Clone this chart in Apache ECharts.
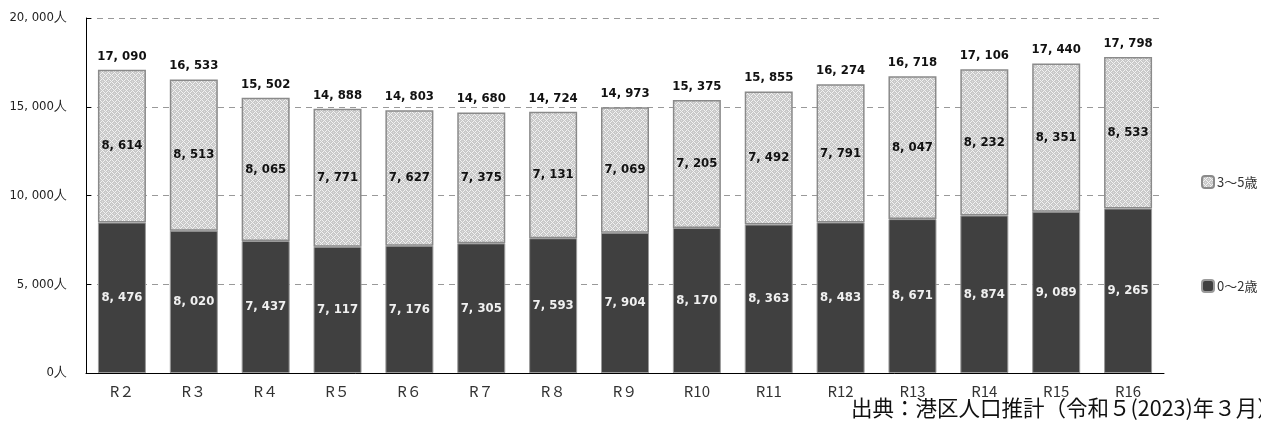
<!DOCTYPE html>
<html><head><meta charset="utf-8">
<script src="https://cdn.jsdelivr.net/npm/echarts@6/dist/echarts.min.js"></script>
<style>html,body{margin:0;padding:0;background:#fff}#c{width:1261px;height:425px}</style>
</head><body><div id="c"></div>
<script>
const categories = ['R２','R３','R４','R５','R６','R７','R８','R９','R10','R11','R12','R13','R14','R15','R16'];
const age0to2 = [8476,8020,7437,7117,7176,7305,7593,7904,8170,8363,8483,8671,8874,9089,9265];
const age3to5 = [8614,8513,8065,7771,7627,7375,7131,7069,7205,7492,7791,8047,8232,8351,8533];
const seriesNames = ['0～2歳','3～5歳'];
const yTicks = [0,5000,10000,15000,20000];
const sourceText = '出典：港区人口推計（令和５(2023)年３月）';

const totals = age0to2.map((v,i)=>v+age3to5[i]);
const fmt = v => String(v).replace(/\B(?=(\d{3})+(?!\d))/g, ', ');

// hatch pattern
const pc = document.createElement('canvas');
pc.width = 6; pc.height = 6;
const g = pc.getContext('2d');
g.fillStyle = '#c9c9c9'; g.fillRect(0,0,6,6);
g.fillStyle = '#f2f2f2';
[[0,0],[1,1],[2,2],[4,2],[5,1],[3,3],[2,4],[1,5],[4,4],[5,5]].forEach(p=>g.fillRect(p[0],p[1],1,1));
g.fillStyle = '#e0e0e0';
[[3,0],[0,3]].forEach(p=>g.fillRect(p[0],p[1],1,1));

const numFont = '"DejaVu Sans Condensed","Liberation Sans Narrow",sans-serif';
const jpFont = '"Noto Sans CJK JP",sans-serif';
const chart = echarts.init(document.getElementById('c'), null, {renderer:'canvas'});
chart.setOption({
  animation:false,
  backgroundColor:'#fff',
  grid:{left:86,right:97,top:18,bottom:52},
  legend:{
    orient:'vertical', left:1196, top:170, itemWidth:12, itemHeight:12, itemGap:90,
    data:[seriesNames[1], seriesNames[0]],
    textStyle:{fontFamily:jpFont, fontSize:13, color:'#333', padding:[0,0,0,-2]}
  },
  xAxis:{
    type:'category', data:categories,
    axisLine:{lineStyle:{color:'#000',width:1}},
    axisTick:{inside:true,length:4,lineStyle:{color:'#000'}},
    axisLabel:{margin:11,fontSize:15,color:'#333',fontFamily:jpFont}
  },
  yAxis:{
    type:'value', min:yTicks[0], max:yTicks[yTicks.length-1], interval:yTicks[1]-yTicks[0],
    axisLine:{show:true,lineStyle:{color:'#000',width:1}},
    axisTick:{show:true,inside:true,length:5,lineStyle:{color:'#000'}},
    splitLine:{lineStyle:{color:'#999',type:[6,5],width:1}},
    axisLabel:{margin:19,fontSize:13,color:'#222',fontFamily:numFont,
      formatter:v=>fmt(v)+'人'}
  },
  series:[
    {name:seriesNames[0], type:'bar', stack:'a', barWidth:48, data:age0to2,
      itemStyle:{color:'#404040',borderColor:'#9a9a9a',borderWidth:1},
      label:{show:true,position:'inside',color:'#f0f0f0',fontFamily:numFont,fontWeight:'bold',fontSize:13,
        formatter:p=>fmt(p.value)}},
    {name:seriesNames[1], type:'bar', stack:'a', barWidth:48, data:age3to5,
      itemStyle:{color:{image:pc,repeat:'repeat'},borderColor:'#8a8a8a',borderWidth:1.5},
      label:{show:true,position:'inside',color:'#111',fontFamily:numFont,fontWeight:'bold',fontSize:13,
        formatter:p=>fmt(p.value)}},
    {name:'total', type:'bar', stack:'a', barWidth:48, data:totals.map(()=>0),
      itemStyle:{color:'transparent'}, silent:true,
      label:{show:true,position:'top',distance:7,color:'#111',fontFamily:numFont,fontWeight:'bold',fontSize:13,
        formatter:p=>fmt(totals[p.dataIndex])}}
  ],
  graphic:[{type:'text',left:851,top:397,style:{text:sourceText,fontSize:21.5,fill:'#111',
    fontFamily:jpFont}}]
});
</script></body></html>
